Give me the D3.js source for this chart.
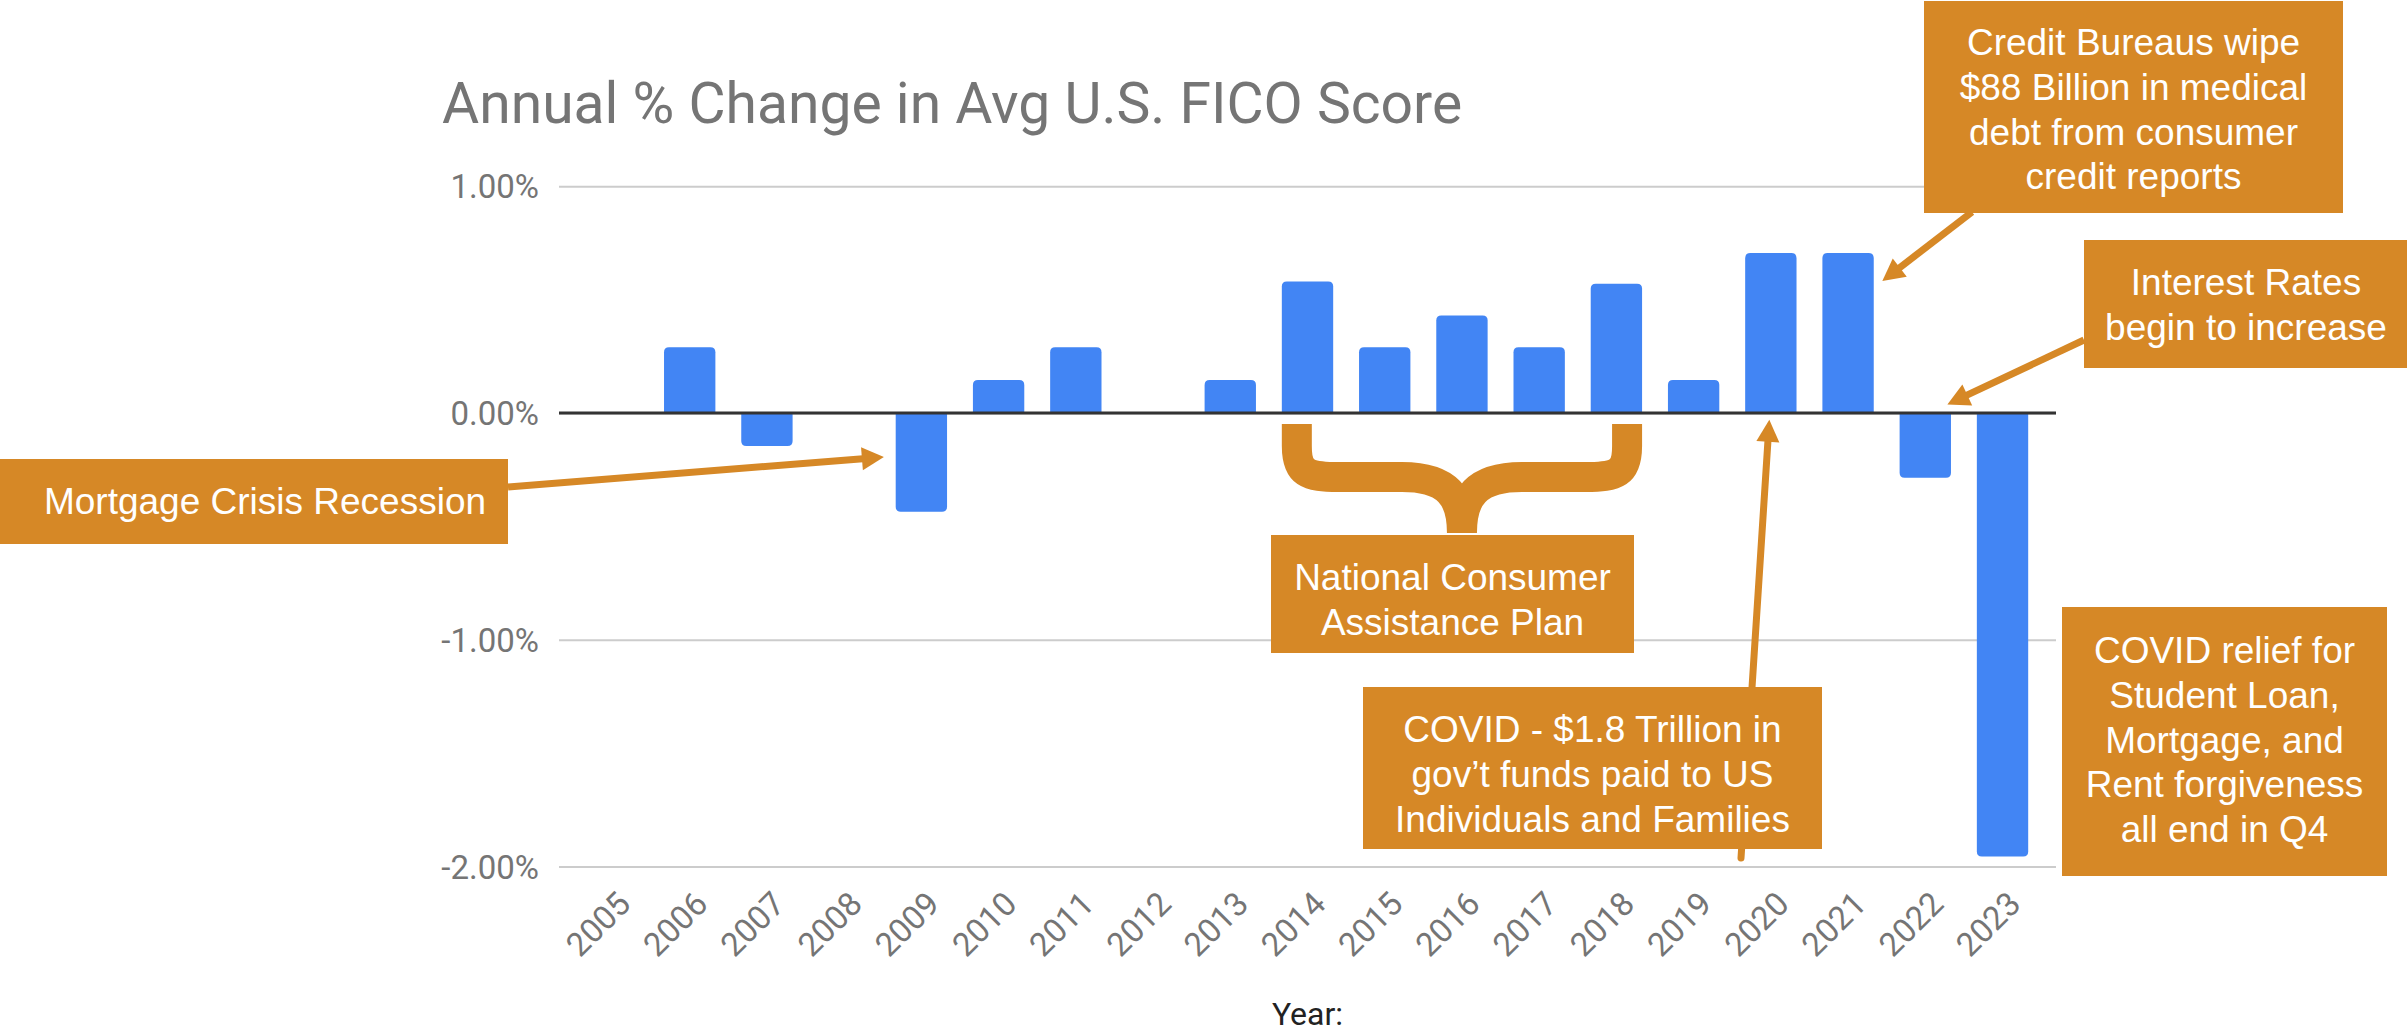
<!DOCTYPE html>
<html>
<head>
<meta charset="utf-8">
<script src="https://cdn.jsdelivr.net/npm/d3@7"></script>
<style>
  body { margin: 0; background: #fff; }
  svg { display: block; }
</style>
</head>
<body>
<div id="chart"></div>
<script>
// data
const years = ["2005", "2006", "2007", "2008", "2009", "2010", "2011", "2012", "2013", "2014",
    "2015", "2016", "2017", "2018", "2019", "2020", "2021", "2022", "2023"];
const pctChange = [0, 0.29, -0.145, 0, -0.435, 0.146, 0.29, 0, 0.145, 0.58,
    0.29, 0.43, 0.29, 0.57, 0.145, 0.705, 0.705, -0.285, -1.955];
const yTicks = [-2, -1, 0, 1];

const chartTitle = "Annual % Change in Avg U.S. FICO Score";
const xTitle = "Year:";

// call-out texts
const noteMortgage = ["Mortgage Crisis Recession"];
const notePlan = ["National Consumer", "Assistance Plan"];
const noteCovid = ["COVID - $1.8 Trillion in", "gov\u2019t funds paid to US", "Individuals and Families"];
const noteMedical = ["Credit Bureaus wipe", "$88 Billion in medical", "debt from consumer", "credit reports"];
const noteRates = ["Interest Rates", "begin to increase"];
const noteRelief = ["COVID relief for", "Student Loan,", "Mortgage, and", "Rent forgiveness", "all end in Q4"];

const width = 2407, height = 1033;
const plot = { left: 559, right: 2056, top: 186.2, bottom: 866.6 };
const orange = "#d68826";
const gray = "#757575";
const boxFont = "Arial, 'Liberation Sans', sans-serif";

const data = years.map((d, i) => ({ year: d, value: pctChange[i] }));

const svg = d3.select("#chart")
    .append("svg")
    .attr("width", width)
    .attr("height", height)
    .style("font-family", "Roboto, sans-serif");

// scales
const x = d3.scaleBand()
    .domain(years)
    .range([plot.left, plot.right])
    .paddingInner(0.335)
    .paddingOuter(0.36);

const y = d3.scaleLinear()
    .domain([-2, 1])
    .range([plot.bottom, plot.top]);

// title
svg.append("text")
    .attr("x", 442)
    .attr("y", 123)
    .attr("font-size", "57px")
    .attr("fill", gray)
    .text(chartTitle);

// y axis + gridlines
const yAxis = svg.append("g")
    .attr("transform", `translate(${plot.left},0)`)
    .call(d3.axisLeft(y)
        .tickValues(yTicks)
        .tickSize(-(plot.right - plot.left))
        .tickPadding(20)
        .tickFormat(d => d.toFixed(2) + "%"));
yAxis.select(".domain").remove();
yAxis.selectAll("line")
    .attr("stroke", "#cccccc")
    .attr("stroke-width", 2);
yAxis.selectAll("text")
    .attr("font-size", "33px")
    .attr("font-family", "Roboto, sans-serif")
    .attr("fill", gray)
    .attr("dy", "0.35em");

// bars, rounded on the far end
function barPath(d) {
    const x0 = x(d.year), w = x.bandwidth();
    const y0 = y(0), y1 = y(d.value);
    const s = d.value > 0 ? 1 : -1;
    const r = Math.min(5, Math.abs(y1 - y0) / 2);
    return `M${x0},${y0}V${y1 + s * r}Q${x0},${y1} ${x0 + r},${y1}` +
        `H${x0 + w - r}Q${x0 + w},${y1} ${x0 + w},${y1 + s * r}V${y0}Z`;
}

svg.append("g")
    .selectAll("path")
    .data(data.filter(d => d.value !== 0))
    .join("path")
    .attr("d", barPath)
    .attr("fill", "#4285f4");

// zero baseline
svg.append("line")
    .attr("x1", plot.left)
    .attr("x2", plot.right)
    .attr("y1", y(0))
    .attr("y2", y(0))
    .attr("stroke", "#333333")
    .attr("stroke-width", 3);

// x axis, slanted labels
const xAxis = svg.append("g")
    .attr("transform", "translate(0,906)")
    .call(d3.axisBottom(x).tickSize(0));
xAxis.select(".domain").remove();
xAxis.selectAll("text")
    .attr("y", 0)
    .attr("dy", null)
    .attr("font-size", "33px")
    .attr("font-family", "Roboto, sans-serif")
    .attr("fill", gray)
    .attr("text-anchor", "end")
    .attr("transform", "translate(20,0) rotate(-45)");

svg.append("text")
    .attr("x", (plot.left + plot.right) / 2)
    .attr("y", 1025)
    .attr("text-anchor", "middle")
    .attr("font-size", "32px")
    .attr("fill", "#222222")
    .text(xTitle);

// arrows (drawn below the boxes)
function arrow(x1, y1, tx, ty, cap) {
    const len = 22, half = 11.5;
    const dx = tx - x1, dy = ty - y1, L = Math.hypot(dx, dy);
    const ux = dx / L, uy = dy / L;
    const bx = tx - ux * len, by = ty - uy * len;
    svg.append("line")
        .attr("x1", x1).attr("y1", y1)
        .attr("x2", bx + ux).attr("y2", by + uy)
        .attr("stroke", orange)
        .attr("stroke-width", 7)
        .attr("stroke-linecap", cap || "butt");
    svg.append("path")
        .attr("d", `M${tx},${ty}L${bx - uy * half},${by + ux * half}L${bx + uy * half},${by - ux * half}Z`)
        .attr("fill", orange);
}

const bw = x.bandwidth();
arrow(508, 487, x("2009") - 0.23 * bw, y(-0.194));
arrow(1972, 212, x("2021") + 1.167 * bw, y(0.582));
arrow(2084, 340, x("2022") + 0.93 * bw, y(0.038));
arrow(1741, 858, x("2020") + 0.47 * bw, y(-0.03), "round");

// curly brace under 2014-2018
const bL = x("2014") + 15, bR = x("2018") + bw - 15, bM = (bL + bR) / 2;
const bTop = y(0) + 11, bMid = y(0) + 64, bBot = y(0) + 120;
const braceHalf = (a, dir) =>
    `M${a},${bTop}V${bTop + 22}C${a},${bMid - 4} ${a + dir * 10},${bMid} ${a + dir * 42},${bMid}` +
    `H${bM - dir * 60}C${bM - dir * 14},${bMid} ${bM},${bMid + 20} ${bM},${bBot}`;
svg.append("path")
    .attr("d", braceHalf(bL, 1) + braceHalf(bR, -1))
    .attr("fill", "none")
    .attr("stroke", orange)
    .attr("stroke-width", 30);

// boxes
function note(lines, bx, by, bwid, bh, firstBase, cx) {
    svg.append("rect")
        .attr("x", bx).attr("y", by)
        .attr("width", bwid).attr("height", bh)
        .attr("fill", orange);
    svg.append("text")
        .attr("font-family", boxFont)
        .attr("font-size", "37px")
        .attr("fill", "#ffffff")
        .attr("text-anchor", "middle")
        .selectAll("tspan")
        .data(lines)
        .join("tspan")
        .attr("x", cx !== undefined ? cx : bx + bwid / 2)
        .attr("y", (d, i) => firstBase + i * 44.8)
        .text(d => d);
}

note(noteMortgage, 0, 459, 508, 85, 514, 265);
note(notePlan, 1271, 535, 363, 118, 590);
note(noteCovid, 1363, 687, 459, 162, 742);
note(noteMedical, 1924, 1, 419, 212, 55);
note(noteRates, 2084, 240, 324, 128, 295);
note(noteRelief, 2062, 607, 325, 269, 663);
</script>
</body>
</html>
